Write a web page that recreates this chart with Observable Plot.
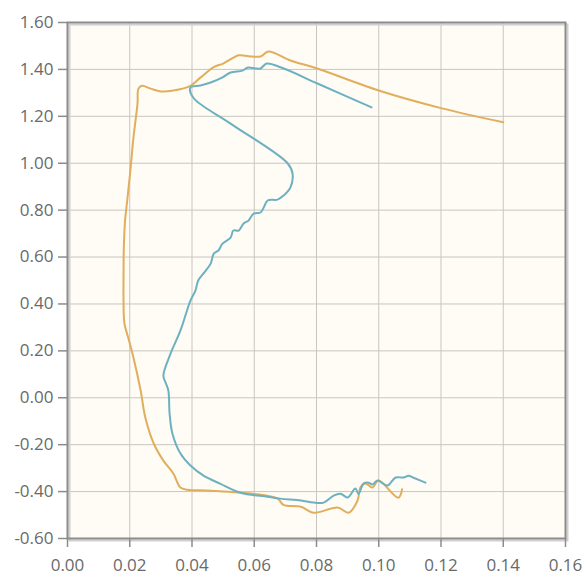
<!DOCTYPE html>
<html>
<head>
<meta charset="utf-8">
<script src="https://cdn.jsdelivr.net/npm/d3@7"></script>
<script src="https://cdn.jsdelivr.net/npm/@observablehq/plot@0.6"></script>
<style>
  html, body { margin: 0; padding: 0; background: #ffffff; }
  #chart svg { display: block; }
</style>
</head>
<body>
<div id="chart"></div>
<script>
// Tick values
const xTicks = [0, 0.02, 0.04, 0.06, 0.08, 0.10, 0.12, 0.14, 0.16];
const yTicks = [-0.6, -0.4, -0.2, 0, 0.2, 0.4, 0.6, 0.8, 1.0, 1.2, 1.4, 1.6];

// Orange series (x, y) in path order
const orangePoints = [
  [0.140, 1.175], [0.120, 1.235], [0.100, 1.31], [0.080, 1.405], [0.0716, 1.438],
  [0.0646, 1.476], [0.062, 1.455], [0.0594, 1.455], [0.055, 1.46], [0.0533, 1.45],
  [0.050, 1.425], [0.047, 1.41], [0.0427, 1.365], [0.0395, 1.33], [0.034, 1.31],
  [0.030, 1.306], [0.0267, 1.318], [0.024, 1.33], [0.0228, 1.318], [0.0225, 1.255],
  [0.0212, 1.11], [0.0202, 0.969], [0.0193, 0.854], [0.0185, 0.756], [0.0181, 0.64],
  [0.018, 0.5], [0.018, 0.414], [0.0183, 0.316], [0.0195, 0.257], [0.0212, 0.171], [0.0235, 0.031],
  [0.025, -0.084], [0.0277, -0.195], [0.0308, -0.268], [0.034, -0.323], [0.0363, -0.383],
  [0.0385, -0.392], [0.046, -0.396], [0.060, -0.41], [0.0675, -0.43], [0.0694, -0.457],
  [0.075, -0.465], [0.079, -0.49], [0.0868, -0.468], [0.0903, -0.49], [0.0932, -0.438],
  [0.0941, -0.383], [0.0957, -0.366], [0.098, -0.383], [0.0999, -0.353], [0.1063, -0.426],
  [0.1075, -0.39]
];

// Blue series (x, y) in path order
const bluePoints = [
  [0.0977, 1.238], [0.0803, 1.34], [0.0687, 1.408], [0.064, 1.425], [0.062, 1.404],
  [0.0604, 1.404], [0.058, 1.408], [0.0562, 1.395], [0.0524, 1.387], [0.0498, 1.366],
  [0.046, 1.344], [0.0427, 1.331], [0.0395, 1.323], [0.0405, 1.278], [0.0524, 1.169],
  [0.0707, 1.0], [0.0723, 0.956], [0.0716, 0.896], [0.0694, 0.862], [0.0675, 0.845],
  [0.0643, 0.841], [0.063, 0.81], [0.062, 0.79], [0.0598, 0.785], [0.0582, 0.756],
  [0.0566, 0.743], [0.055, 0.713], [0.0533, 0.713], [0.0524, 0.683], [0.0498, 0.657],
  [0.0485, 0.628], [0.047, 0.615], [0.046, 0.572], [0.0437, 0.53], [0.042, 0.5],
  [0.0411, 0.457], [0.0395, 0.414], [0.0363, 0.287], [0.0331, 0.188], [0.0308, 0.095],
  [0.0315, 0.065], [0.0324, 0.031], [0.0328, -0.067], [0.0337, -0.152], [0.0363, -0.238],
  [0.0395, -0.289], [0.0437, -0.332], [0.049, -0.366], [0.0556, -0.405], [0.0643, -0.422],
  [0.0684, -0.43], [0.075, -0.438], [0.079, -0.447], [0.0823, -0.447], [0.0855, -0.417],
  [0.0877, -0.409], [0.090, -0.425], [0.0925, -0.387], [0.0935, -0.41], [0.0951, -0.366],
  [0.0967, -0.362], [0.098, -0.37], [0.0996, -0.353], [0.1028, -0.374], [0.1054, -0.34],
  [0.108, -0.34], [0.1096, -0.332], [0.111, -0.34], [0.115, -0.362]
];

const orange = orangePoints.map(([x, y]) => ({x, y}));
const blue = bluePoints.map(([x, y]) => ({x, y}));
const fmt = d => (Math.abs(d) < 1e-9 ? 0 : d).toFixed(2);

const chart = Plot.plot({
  width: 584,
  height: 576,
  marginLeft: 67,
  marginTop: 22,
  marginRight: 19,
  marginBottom: 38,
  x: {domain: [0, 0.16]},
  y: {domain: [-0.6, 1.6]},
  style: {fontFamily: "'Open Sans', sans-serif", fontSize: "17px", color: "#6a6a6a", background: "#ffffff"},
  marks: [
    Plot.frame({fill: "#fefcf4", stroke: null}),
    Plot.gridX(xTicks, {stroke: "#c9c6c0", strokeOpacity: 1, strokeWidth: 1}),
    Plot.gridY(yTicks, {stroke: "#c9c6c0", strokeOpacity: 1, strokeWidth: 1}),
    Plot.frame({stroke: "#d0d0d0", strokeWidth: 2, dx: 2, dy: 2}),
    Plot.frame({stroke: "#8c8c8c", strokeWidth: 2}),
    Plot.axisX(xTicks, {tickSize: 9, tickPadding: 11, tickFormat: fmt, stroke: "#8c8c8c", strokeWidth: 1.5, label: null}),
    Plot.axisY(yTicks, {tickSize: 9, tickPadding: 5, tickFormat: fmt, stroke: "#8c8c8c", strokeWidth: 1.5, label: null}),
    Plot.line(orange, {x: "x", y: "y", stroke: "#e0ae5c", strokeWidth: 2, strokeLinejoin: "round", curve: "catmull-rom"}),
    Plot.line(blue, {x: "x", y: "y", stroke: "#6db1c0", strokeWidth: 2, strokeLinejoin: "round", curve: "catmull-rom"})
  ]
});
document.getElementById("chart").appendChild(chart);
</script>
</body>
</html>
